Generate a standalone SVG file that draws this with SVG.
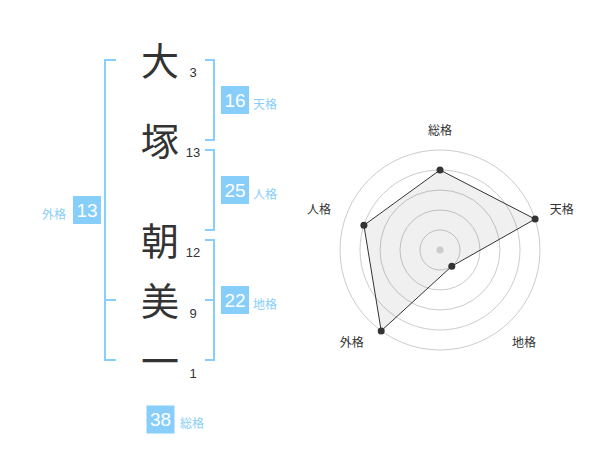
<svg xmlns="http://www.w3.org/2000/svg" width="600" height="470" viewBox="0 0 600 470">
<style>
.ch{font-family:"Noto Sans CJK JP","Noto Sans CJK SC",sans-serif;font-size:38px;fill:#333;text-anchor:middle}
.num{font-family:"Liberation Sans",Arial,sans-serif;font-size:13px;fill:#333;text-anchor:middle}
.br{fill:none;stroke:#87CEFA;stroke-width:2}
.box{fill:#87CEFA}
.bn{font-family:"Liberation Sans",Arial,sans-serif;font-size:19px;fill:#fff;text-anchor:middle}
.bl{font-family:"Noto Sans CJK JP","Noto Sans CJK SC",sans-serif;font-size:12px;fill:#87CEFA}
.ring{fill:none;stroke:#ccc;stroke-width:1}
.rl{font-family:"Noto Sans CJK JP","Noto Sans CJK SC",sans-serif;font-size:12px;fill:#333;text-anchor:middle}
</style>
<rect width="600" height="470" fill="#fff"/>
<g id="name">
<text class="ch" x="160" y="74.5">大</text>
<text class="ch" x="160" y="154.5">塚</text>
<text class="ch" x="160" y="255">朝</text>
<text class="ch" x="160" y="314.5">美</text>
<text class="ch" x="160" y="374.5">一</text>
<text class="num" x="193" y="77">3</text>
<text class="num" x="193" y="157">13</text>
<text class="num" x="193" y="257">12</text>
<text class="num" x="193" y="318">9</text>
<text class="num" x="193" y="378">1</text>
</g>
<g id="connectors">
<path class="br" d="M116,60 H105 V360 H116 M105,300 H116"/>
<path class="br" d="M205,60 H214 V140 H205"/>
<path class="br" d="M205,150 H214 V230 H205"/>
<path class="br" d="M205,240 H214 V360 H205 M214,300 H205"/>
</g>
<g id="tenkaku">
<rect class="box" x="221" y="86" width="28" height="28"/>
<text class="bn" x="235" y="106.8">16</text>
<text class="bl" x="253" y="108.6">天格</text>
</g>
<g id="jinkaku">
<rect class="box" x="221" y="176" width="28" height="28"/>
<text class="bn" x="235" y="196.8">25</text>
<text class="bl" x="253" y="198.6">人格</text>
</g>
<g id="chikaku">
<rect class="box" x="221" y="286" width="28" height="28"/>
<text class="bn" x="235" y="306.8">22</text>
<text class="bl" x="253" y="308.6">地格</text>
</g>
<g id="gaikaku">
<rect class="box" x="73" y="196" width="28" height="28"/>
<text class="bn" x="87" y="216.8">13</text>
<text class="bl" x="66" y="218.6" text-anchor="end">外格</text>
</g>
<g id="soukaku">
<rect class="box" x="146.5" y="405.5" width="28" height="28"/>
<text class="bn" x="160.5" y="426.3">38</text>
<text class="bl" x="180" y="428">総格</text>
</g>
<g id="radar">
<circle class="ring" cx="440" cy="250" r="20"/>
<circle class="ring" cx="440" cy="250" r="40"/>
<circle class="ring" cx="440" cy="250" r="60"/>
<circle class="ring" cx="440" cy="250" r="80"/>
<circle class="ring" cx="440" cy="250" r="100"/>
<polygon points="440,170 535.1,219.1 451.8,266.2 381.2,330.9 363.9,225.3" fill="#000" fill-opacity="0.06" stroke="#333" stroke-width="1"/>
<circle cx="440" cy="250" r="3.5" fill="#ccc"/>
<g fill="#333">
<circle cx="440" cy="170" r="3.5"/>
<circle cx="535.1" cy="219.1" r="3.5"/>
<circle cx="451.8" cy="266.2" r="3.5"/>
<circle cx="381.2" cy="330.9" r="3.5"/>
<circle cx="363.9" cy="225.3" r="3.5"/>
</g>
<text class="rl" x="440" y="134.6">総格</text>
<text class="rl" x="561.7" y="213.6">天格</text>
<text class="rl" x="319" y="213.6">人格</text>
<text class="rl" x="351.7" y="346.9">外格</text>
<text class="rl" x="524" y="346.9">地格</text>
</g>
</svg>
